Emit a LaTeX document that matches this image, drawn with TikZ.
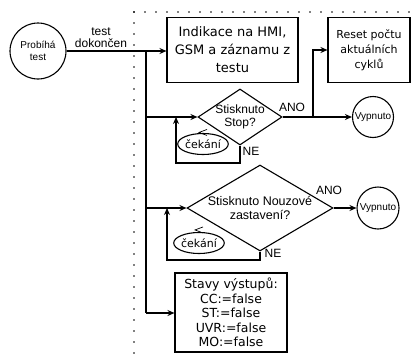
\documentclass[tikz,border=0pt]{standalone}
\usepackage{fontspec}
\setmainfont{Liberation Sans}
\newfontfamily\verd{DejaVu Sans}
\usetikzlibrary{shapes.geometric,arrows.meta,calc}
\begin{document}
\begin{tikzpicture}[x=1pt,y=-1pt,
  line width=1.1pt,
  arr/.style={-{Stealth[length=7pt,width=6pt]}},
  box/.style={draw, rectangle, inner sep=0, align=center},
  dia/.style={draw, diamond, inner sep=0},
  circ/.style={draw, circle, inner sep=0, align=center, font=\fontsize{10}{12}\selectfont},
  waitnode/.style={draw, ellipse, inner sep=0, minimum width=48pt, minimum height=21pt, font=\verd\fontsize{11}{13}\selectfont},
  lbl/.style={inner sep=0, align=center, font=\fontsize{12}{12}\selectfont},
  dots/.style={line width=1.8pt, line cap=round, dash pattern=on 0pt off 11pt},
  barb/.style={line width=0.7pt}
]
\useasboundingbox (0,0) rectangle (411,356);
\draw[dots] (134,12) -- (411,12);
\draw[dots] (134,12) -- (134,356);

\node[circ, minimum size=56pt] (pt) at (38,51) {Probíhá\\test};
\node[box, minimum width=131pt, minimum height=65pt, font=\verd\fontsize{13}{18}\selectfont] (b1) at (232.5,50) {Indikace na HMI,\\GSM a záznamu z\\testu};
\node[box, minimum width=82pt, minimum height=65pt, font=\verd\fontsize{11}{15}\selectfont] (b2) at (369,50) {Reset počtu\\aktuálních\\cyklů};
\node[dia, minimum width=84pt, minimum height=56pt] (d1) at (240,117) {};
\node[lbl, font=\fontsize{12}{13.5}\selectfont] (t1) at (d1.center) {Stisknuto\\Stop?};
\node[circ, minimum size=41pt] (v1) at (373,117) {Vypnuto};
\node[dia, minimum width=146pt, minimum height=86pt] (d2) at (260,208) {};
\node[lbl, font=\fontsize{12.5}{14}\selectfont] (t2) at (d2.center) {Stisknuto Nouzové\\zastavení?};
\node[circ, minimum size=42pt] (v2) at (378,208) {Vypnuto};
\node[box, minimum width=112pt, minimum height=79pt, font=\verd\fontsize{12.5}{14.5}\selectfont] (b3) at (231,312.5) {Stavy výstupů:\\CC:=false\\ST:=false\\UVR:=false\\MO:=false};
\node[waitnode] (w1) at (203,144) {čekání};
\node[waitnode] (w2) at (199,243) {čekání};

\coordinate (top) at (146,51);
\coordinate (bot) at (146,313);
\coordinate (l1) at (176,163);
\coordinate (l2) at (167,260);
\coordinate (j1) at (313,117);

\draw[arr] (pt.east) -- (b1.west |- pt.east);
\draw (top) -- (bot);
\draw[arr] (bot) -- (b3.west |- bot);
\draw[arr] (top |- d1.west) -- (d1.west);
\draw[arr] (top |- d2.west) -- (d2.west);
\draw[arr] (d1.south) |- (l1) -- (l1 |- d1.west);
\draw[arr] (d2.south) |- (l2) -- (l2 |- d2.west);
\draw[arr] (d1.east) -- (v1.west);
\draw[arr] (j1) |- (b2.west);
\draw[arr] (d2.east) -- (v2.west);

\draw[barb] ($(w1.north)+(4,-3.5)$) -- ($(w1.north)+(-4,-0.5)$) -- ($(w1.north)+(4,2.5)$);
\draw[barb] ($(w2.north)+(4,-5)$) -- ($(w2.north)+(-4,-2)$) -- ($(w2.north)+(4,1)$);

\node[lbl] (lt) at (101,38) {test\\dokončen};
\node[lbl] (a1) at (292,107) {ANO};
\node[lbl] (n1) at (251,151) {NE};
\node[lbl] (a2) at (329,190) {ANO};
\node[lbl] (n2) at (273,253) {NE};
\end{tikzpicture}
\end{document}
